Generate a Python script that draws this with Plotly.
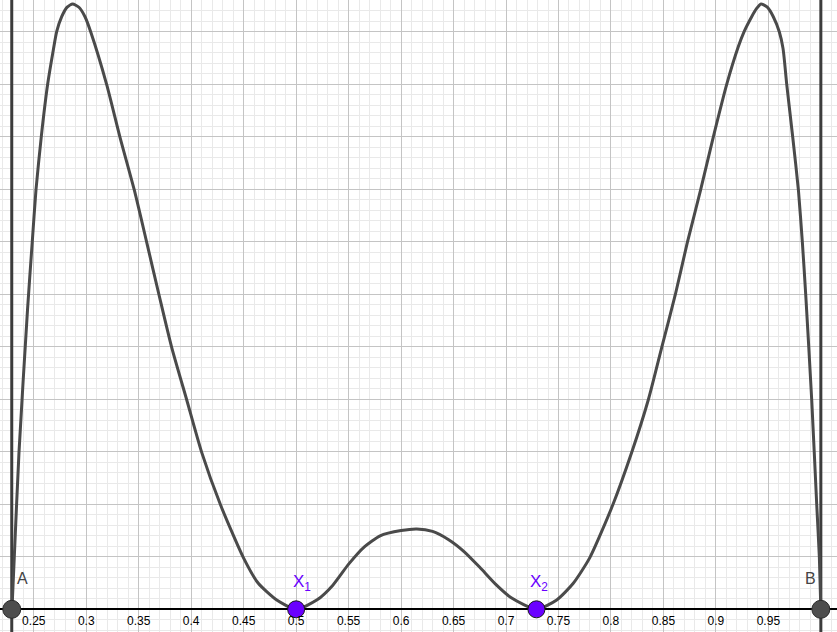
import plotly.graph_objects as go

# curve (x, f(x))
CURVE_X = [0.2292, 0.2314, 0.2359, 0.2440, 0.2485, 0.2521, 0.2571, 0.2632, 0.2686,
           0.2718, 0.2766, 0.2818, 0.2870, 0.2930, 0.2988, 0.3042, 0.3194, 0.3321,
           0.3457, 0.3576, 0.3693, 0.3814, 0.3957, 0.4100, 0.4280, 0.4496, 0.4639,
           0.4815, 0.5000, 0.5200, 0.5350, 0.5500, 0.5650, 0.5800, 0.6000, 0.6150,
           0.6300, 0.6450, 0.6600, 0.6750, 0.6900, 0.7050, 0.7290, 0.7483, 0.7641,
           0.7800, 0.8017, 0.8198, 0.8356, 0.8484, 0.8613, 0.8728, 0.8855, 0.8975,
           0.9103, 0.9214, 0.9268, 0.9341, 0.9385, 0.9430, 0.9490, 0.9547, 0.9604,
           0.9640, 0.9675, 0.9732, 0.9786, 0.9824, 0.9856, 0.9913, 0.9961, 0.9986,
           1.0000]
CURVE_Y = [0.0, 0.0495, 0.1495, 0.2850, 0.3495, 0.3996, 0.4498, 0.5000, 0.5327,
           0.5501, 0.5644, 0.5735, 0.5765, 0.5734, 0.5644, 0.5501, 0.5000, 0.4498,
           0.3996, 0.3495, 0.2996, 0.2495, 0.1996, 0.1495, 0.0993, 0.0495, 0.0248,
           0.0089, 0.0, 0.0090, 0.0230, 0.0430, 0.0595, 0.0700, 0.0750, 0.0765,
           0.0742, 0.0665, 0.0550, 0.0400, 0.0240, 0.0110, 0.0, 0.0089, 0.0248,
           0.0495, 0.0993, 0.1495, 0.1996, 0.2495, 0.2996, 0.3495, 0.3996, 0.4498,
           0.5000, 0.5360, 0.5500, 0.5644, 0.5718, 0.5765, 0.5735, 0.5644, 0.5501,
           0.5340, 0.5000, 0.4498, 0.3996, 0.3495, 0.2996, 0.1996, 0.0993, 0.0495,
           0.0]

# end points A, B and the double roots x1, x2
END_NAMES = ["A", "B"]
END_X = [0.2290, 1.0]
ROOT_NAMES = ["X<sub>1</sub>", "X<sub>2</sub>"]
ROOT_X = [0.5, 0.729]

TICK_VALS = [0.25, 0.3, 0.35, 0.4, 0.45, 0.5, 0.55, 0.6, 0.65, 0.7, 0.75, 0.8, 0.85, 0.9, 0.95]
TICK_TEXT = ["0.25", "0.3", "0.35", "0.4", "0.45", "0.5", "0.55", "0.6", "0.65", "0.7",
             "0.75", "0.8", "0.85", "0.9", "0.95"]

X_RANGE = [0.2178, 1.0154]
Y_RANGE = [-0.0216, 0.5803]

GREY = "#4a4a4a"
PURPLE = "#6a00ff"

fig = go.Figure()

# vertical lines through A and B
for xv in END_X:
    fig.add_trace(go.Scatter(x=[xv, xv], y=Y_RANGE, mode="lines",
                             line=dict(color="#3c3c3c", width=3),
                             hoverinfo="skip", showlegend=False))

fig.add_trace(go.Scatter(x=CURVE_X, y=CURVE_Y, mode="lines",
                         line=dict(color=GREY, width=3, shape="spline", smoothing=0.6),
                         showlegend=False))

fig.add_trace(go.Scatter(x=END_X, y=[0] * len(END_X), mode="markers",
                         marker=dict(size=18, color="#4d4d4d",
                                     line=dict(color="#2a2a2a", width=1)),
                         showlegend=False))
fig.add_trace(go.Scatter(x=ROOT_X, y=[0] * len(ROOT_X), mode="markers",
                         marker=dict(size=17, color=PURPLE,
                                     line=dict(color="#1a1a1a", width=1)),
                         showlegend=False))

# labels
fig.add_annotation(x=END_X[0], y=0, text=END_NAMES[0], showarrow=False,
                   xanchor="center", yanchor="middle", xshift=11, yshift=31,
                   font=dict(size=16, color="#444444"))
fig.add_annotation(x=END_X[1], y=0, text=END_NAMES[1], showarrow=False,
                   xanchor="center", yanchor="middle", xshift=-10, yshift=31,
                   font=dict(size=16, color="#444444"))
for xv, name, dx in zip(ROOT_X, ROOT_NAMES, [-5, -8]):
    fig.add_annotation(x=xv, y=0, text=name, showarrow=False,
                       xanchor="left", yanchor="middle", xshift=dx, yshift=26,
                       font=dict(size=17, color=PURPLE))

fig.update_layout(
    width=837, height=632,
    margin=dict(l=0, r=0, t=0, b=0),
    paper_bgcolor="white", plot_bgcolor="white",
    font=dict(family="Liberation Sans, Arial, sans-serif", color="black"),
    xaxis=dict(
        range=X_RANGE, tickvals=TICK_VALS, ticktext=TICK_TEXT,
        showgrid=True, gridcolor="#c4c4c4", gridwidth=1,
        minor=dict(dtick=0.01, tick0=0, showgrid=True, gridcolor="#e9e9e9", gridwidth=1),
        zeroline=False, showline=False, ticks="", ticklabelstandoff=3,
        anchor="free", position=(0 - Y_RANGE[0]) / (Y_RANGE[1] - Y_RANGE[0]),
        tickfont=dict(size=12, color="black"),
    ),
    yaxis=dict(
        range=Y_RANGE, dtick=0.05, tick0=0,
        showgrid=True, gridcolor="#c4c4c4", gridwidth=1,
        minor=dict(dtick=0.01, tick0=0, showgrid=True, gridcolor="#e9e9e9", gridwidth=1),
        zeroline=True, zerolinecolor="black", zerolinewidth=1.5,
        showticklabels=False, ticks="",
    ),
)

# page has a default body margin; drop it so the figure sits at the corner
fig.write_html("out.html", config={"displayModeBar": False},
               post_script="document.body.style.margin='0';")
